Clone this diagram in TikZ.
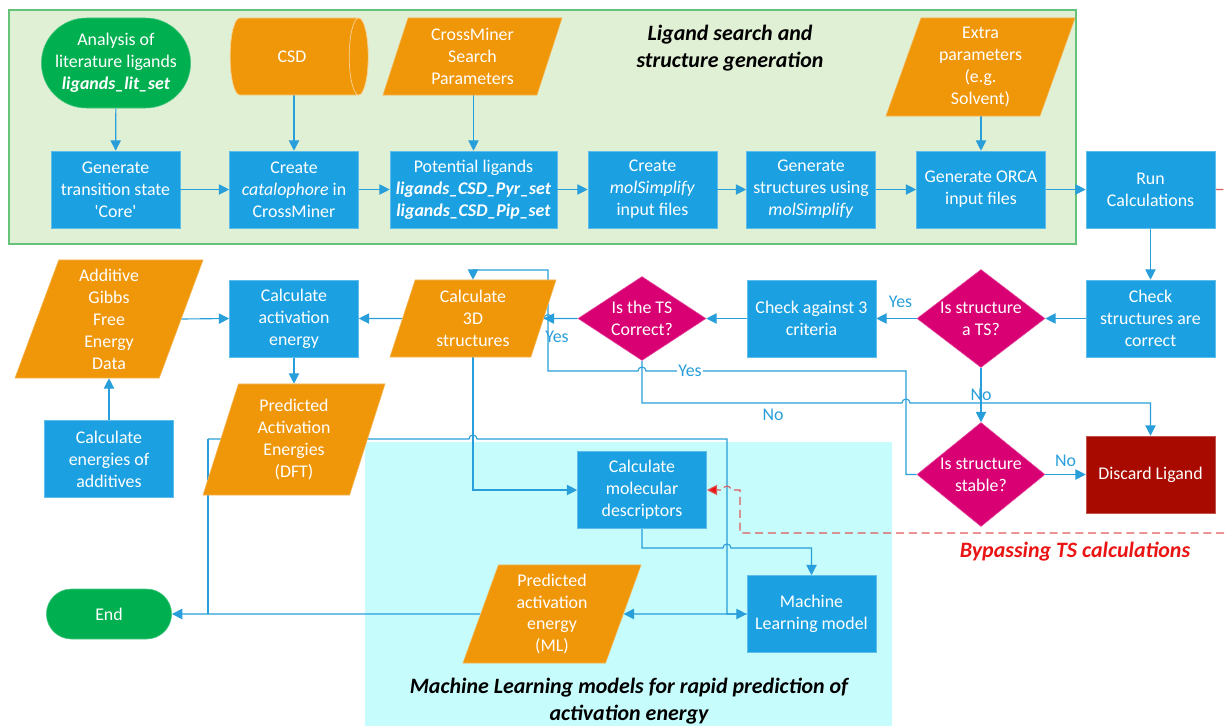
\documentclass[tikz,border=0pt]{standalone}
\usepackage{fontspec}
\setmainfont{Carlito}
\usetikzlibrary{chains,scopes,arrows.meta,shapes.geometric,shapes.misc,backgrounds}
\definecolor{procblue}{RGB}{27,161,226}
\definecolor{dataorange}{RGB}{240,150,9}
\definecolor{termgreen}{RGB}{0,176,80}
\definecolor{decmagenta}{RGB}{216,0,115}
\definecolor{rejectred}{RGB}{168,10,0}
\definecolor{lineblue}{RGB}{40,158,218}
\definecolor{regiongreen}{RGB}{224,240,212}
\definecolor{regionborder}{RGB}{100,195,120}
\definecolor{regioncyan}{RGB}{198,252,252}
\definecolor{bypassred}{RGB}{235,20,20}
\definecolor{dashred}{RGB}{222,90,90}
\pgfdeclarelayer{regions}
\pgfdeclarelayer{links}
\pgfsetlayers{regions,links,main}
\tikzset{
  process/.style={
    % The shape:
    rectangle,
    % The size:
    minimum width=32.25mm, minimum height=19.25mm,
    % The border:
    draw=procblue!70!white, line width=0.4pt,
    % The filling:
    fill=procblue,
    text=white, align=center, inner sep=1pt,
    font=\fontsize{12.7}{15.6}\selectfont},
  reject/.style={
    process,
    draw=rejectred!70!white, fill=rejectred},
  dataio/.style={
    % The shape:
    trapezium, trapezium left angle=67, trapezium right angle=113,
    trapezium stretches body,
    % The rest
    draw=dataorange!70!white, line width=0.4pt, fill=dataorange,
    text=white, align=center, inner sep=1pt,
    font=\fontsize{12.7}{15.6}\selectfont},
  decision/.style={
    % The shape:
    diamond, shape aspect=1.3,
    inner sep=-6pt,
    % The rest
    draw=decmagenta!70!white, line width=0.4pt, fill=decmagenta,
    text=white, align=center,
    font=\fontsize{12.7}{15.6}\selectfont},
  terminal/.style={
    % The shape:
    rounded rectangle,
    % The rest
    draw=termgreen!70!white, line width=0.4pt, fill=termgreen,
    text=white, align=center, inner sep=1pt,
    font=\fontsize{12.7}{15.6}\selectfont},
  database/.style={
    % The shape:
    cylinder, shape border rotate=0, aspect=0.9,
    minimum height=34.5mm, minimum width=19.25mm,
    % The rest
    cylinder uses custom fill, cylinder body fill=dataorange,
    cylinder end fill=dataorange, draw=white!55!dataorange, line width=0.5pt,
    text=white, font=\fontsize{12.7}{15.6}\selectfont},
  answer/.style={text=lineblue, inner sep=1pt, font=\fontsize{12.7}{15}\selectfont},
  heading/.style={align=center, font=\fontsize{15.6}{19}\selectfont\bfseries\itshape}
}

\begin{document}
\begin{tikzpicture}[x=0.025cm, y=-0.025cm, >={Triangle[length=2.6mm,width=2.6mm]},
                    link/.style={draw=lineblue, line width=0.8pt},
                    tip/.style={link,->},
                    every join/.style={tip},
                    bypass/.style={draw=dashred, line width=0.8pt, dash pattern=on 2mm off 1.2mm,
                                   -{Triangle[length=2.6mm,width=2.6mm,fill=bypassred]}}]
  \useasboundingbox (0,0) rectangle (1226,726);

  % ligand search row
  \node (analysis) [terminal, minimum width=38mm, minimum height=22.5mm] at (116,63)
        {Analysis of\\literature ligands\\\textbf{\textit{ligands\_lit\_set}}};
  \node (csd)      [database] at (292,56.5) {CSD};
  \node (cmparam)  [dataio, minimum width=44.75mm, minimum height=19.25mm] at (472.5,56.5)
        {CrossMiner\\Search\\Parameters};
  \node (extra)    [dataio, minimum width=47.25mm, minimum height=24.5mm] at (980.5,67)
        {Extra\\parameters\\(e.g.\\Solvent)};
  \node (core)     [process] at (115.5,189.5) {Generate\\transition state\\\textquotesingle Core\textquotesingle};
  \node (catalo)   [process] at (294,189.5) {Create\\\textit{catalophore} in\\CrossMiner};
  \node (potlig)   [process, minimum width=41.75mm] at (473.5,189.5)
        {Potential ligands\\\textbf{\textit{ligands\_CSD\_Pyr\_set}}\\\textbf{\textit{ligands\_CSD\_Pip\_set}}};
  \node (molsin)   [process] at (652.5,189.5) {Create\\\textit{molSimplify}\\input files};
  \node (molstr)   [process] at (811,189.5) {Generate\\structures using\\\textit{molSimplify}};
  \node (orca)     [process] at (981,189.5) {Generate ORCA\\input files};
  \node (run)      [process] at (1150.5,189.5) {Run\\Calculations};
  \node (ligtitle) [heading] at (730,48) {Ligand search and\\structure generation};

  % checking row
  \node (checkstr) [process] at (1150.5,318.5) {Check\\structures are\\correct};
  \node (isTS)     [decision, minimum width=32mm, minimum height=24.5mm] at (981,318.5) {Is structure\\a TS?};
  \node (criteria) [process] at (811.5,318.5) {Check against 3\\criteria};
  \node (tscorr)   [decision, minimum width=32mm, minimum height=21mm] at (642,318.5) {Is the TS\\Correct?};
  \node (struc3d)  [dataio, minimum width=41.5mm, minimum height=19.25mm] at (473,318.5)
        {Calculate\\3D\\structures};
  \node (calcact)  [process] at (294,318.5) {Calculate\\activation\\energy};
  \node (additive) [dataio, minimum width=47mm, minimum height=29.5mm] at (109,319)
        {Additive\\Gibbs\\Free\\Energy\\Data};

  % lower part
  \node (addcalc)  [process] at (109,459) {Calculate\\energies of\\additives};
  \node (dft)      [dataio, minimum width=45.5mm, minimum height=27.75mm] at (294,439.5)
        {Predicted\\Activation\\Energies\\(DFT)};
  \node (stable)   [decision, minimum width=32mm, minimum height=26mm] at (981,474.5) {Is structure\\stable?};
  \node (discard)  [reject] at (1150.5,474.5) {Discard Ligand};
  \node (desc)     [process] at (642,490) {Calculate\\molecular\\descriptors};
  \node (ml)       [process] at (811.5,614) {Machine\\Learning model};
  \node (mlpar)    [dataio, minimum width=44.5mm, minimum height=24.5mm] at (552,614)
        {Predicted\\activation\\energy\\(ML)};
  \node (end)      [terminal, minimum width=32mm, minimum height=12.5mm] at (109,614) {End};
  \node (bypasstxt)[heading, text=bypassred] at (1075,552) {Bypassing TS calculations};
  \node (mltitle)  [heading] at (629,701) {Machine Learning models for rapid prediction of\\activation energy};
  \coordinate (dftj) at (208,439);

  \begin{pgfonlayer}{regions}
    \fill[regiongreen, draw=regionborder, line width=0.9pt] (9,10) rectangle (1076,244);
    \fill[regioncyan] (365,442) rectangle (892,726);
  \end{pgfonlayer}

  \begin{scope}[start chain]
    \chainin (core);
    \chainin (catalo) [join];
    \chainin (potlig) [join];
    \chainin (molsin) [join];
    \chainin (molstr) [join];
    \chainin (orca)   [join];
    \chainin (run)    [join];
  \end{scope}

  \begin{pgfonlayer}{links}
    \draw[tip] (analysis) -- (core);
    \draw[tip] (catalo.north |- csd.south) -- (catalo.north);
    \draw[tip] (potlig.north |- cmparam.south) -- (potlig.north);
    \draw[tip] (orca.north |- extra.south) -- (orca.north);
    \draw[tip] (run) -- (checkstr);
    \draw[tip] (checkstr) -- (isTS);
    \draw[tip] (isTS) -- node[answer, above, pos=0.4, yshift=6pt] {Yes} (criteria);
    \draw[tip] (criteria) -- (tscorr);
    \draw[tip] (tscorr.west) -- (552,318.5) arc[start angle=0, end angle=180, radius=1mm] -- (struc3d.east);
    \node (yes1) [answer] at (557,337) {Yes};
    \draw[tip] (isTS) -- node[answer, pos=0.5] {No} (stable);
    \draw[tip] (stable) -- node[answer, above, yshift=4pt] {No} (discard);
    \draw[tip] (tscorr.south) -- (642,403) -- (902,403) arc[start angle=180, end angle=0, radius=1mm]
          -| (discard.north);
    \node (no1) [answer] at (773,415) {No};
    \draw[tip] (stable.west) -- (906,474.5) -- (906,371) -- (646,371)
          arc[start angle=0, end angle=180, radius=1mm] -- (548,371) -- (548,270)
          -| (struc3d.north -| struc3d.center);
    \node (yes2) [answer, fill=white] at (690,371) {Yes};
    \draw[tip] (struc3d) -- (calcact);
    \draw[tip] (additive.east) -- (calcact.west);
    \draw[tip] (calcact.south) -- (calcact.south |- dft.north);
    \draw[tip] (addcalc.north) -- (addcalc.north |- additive.south);
    \draw[tip] (struc3d.south -| struc3d.center) |- (desc.west);
    \draw[tip] (desc.south) -- (642,548) -- (723,548) arc[start angle=180, end angle=0, radius=1mm]
          -| (ml.north);
    \draw[tip] (dftj) -- (469,439) arc[start angle=180, end angle=0, radius=1mm] -- (727,439)
          -- (727,614) -- (ml.west);
    \draw[link] (dftj) -- (dftj |- end.east);
    \draw[tip] (ml.west) -- (mlpar.east);
    \draw[tip] (mlpar.west) -- (end.east);
    \draw[bypass] (run.east) -- (1240,189.5) -- (1240,533) -- (740,533) -- (740,490) -- (731,490)
          arc[start angle=0, end angle=180, radius=1mm] -- (desc.east);
  \end{pgfonlayer}
\end{tikzpicture}
\end{document}
